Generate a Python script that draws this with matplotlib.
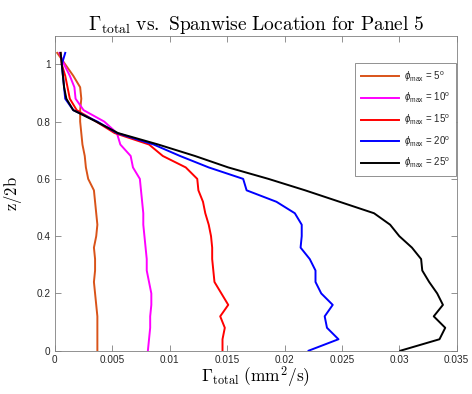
import numpy as np
import matplotlib
matplotlib.use('Agg')
import matplotlib.pyplot as plt
from matplotlib.font_manager import FontProperties

plt.rcParams['font.family'] = ['Liberation Sans', 'DejaVu Sans']
plt.rcParams['mathtext.fontset'] = 'custom'
plt.rcParams['mathtext.rm'] = 'Liberation Sans'
plt.rcParams['mathtext.it'] = 'Liberation Sans:italic'

# spanwise stations z/2b
z = [0.00, 0.04, 0.08, 0.12, 0.16, 0.20, 0.24, 0.28, 0.32, 0.36, 0.40, 0.44, 0.48,
     0.52, 0.56, 0.60, 0.64, 0.68, 0.72, 0.76, 0.80, 0.84, 0.88, 0.92, 0.96, 1.00, 1.04]

# circulation (mm^2/s) per max pitch angle
gamma_5 = [0.0037, 0.0037, 0.0037, 0.0037, 0.0036, 0.0035, 0.0034, 0.0035, 0.0035, 0.0034,
           0.0036, 0.0037, 0.0036, 0.0035, 0.0034, 0.0029, 0.0027, 0.0026, 0.0024, 0.0023,
           0.0022, 0.0022, 0.0023, 0.0022, 0.0016, 0.0009, 0.0002]
gamma_10 = [0.0081, 0.0082, 0.0083, 0.0083, 0.0084, 0.0084, 0.0082, 0.0080, 0.0080, 0.0079,
            0.0078, 0.0077, 0.0077, 0.0076, 0.0075, 0.0074, 0.0068, 0.0066, 0.0057, 0.0054,
            0.0043, 0.0025, 0.0018, 0.0017, 0.0013, 0.0008, 0.0004]
gamma_15 = [0.0146, 0.0146, 0.0148, 0.0144, 0.0151, 0.0145, 0.0139, 0.0138, 0.0137, 0.0137,
            0.0136, 0.0134, 0.0131, 0.0129, 0.0125, 0.0124, 0.0114, 0.0094, 0.0082, 0.0052,
            0.0036, 0.0019, 0.0013, 0.0011, 0.0009, 0.0006, 0.0005]
gamma_20 = [0.0221, 0.0247, 0.0237, 0.0235, 0.0242, 0.0232, 0.0227, 0.0227, 0.0222, 0.0214,
            0.0215, 0.0215, 0.0209, 0.0193, 0.0167, 0.0164, 0.0134, 0.0109, 0.0086, 0.0054,
            0.0037, 0.0016, 0.0009, 0.0008, 0.0007, 0.0006, 0.0009]
gamma_25 = [0.0301, 0.0335, 0.0340, 0.0330, 0.0338, 0.0333, 0.0326, 0.0320, 0.0319, 0.0311,
            0.0300, 0.0292, 0.0278, 0.0248, 0.0218, 0.0186, 0.0151, 0.0122, 0.0090, 0.0055,
            0.0036, 0.0016, 0.0010, 0.0008, 0.0007, 0.0006, 0.0005]

series = [gamma_5, gamma_10, gamma_15, gamma_20, gamma_25]
angles = [5, 10, 15, 20, 25]
colors = ['#D95319', '#FF00FF', '#FF0000', '#0000FF', '#000000']

xticks = [0, 0.005, 0.01, 0.015, 0.02, 0.025, 0.03, 0.035]
xticklabels = ['0', '0.005', '0.01', '0.015', '0.02', '0.025', '0.03', '0.035']
yticks = [0, 0.2, 0.4, 0.6, 0.8, 1.0]
yticklabels = ['0', '0.2', '0.4', '0.6', '0.8', '1']

fig = plt.figure(figsize=(4.72, 3.94), dpi=100)
ax = fig.add_axes([0.1163, 0.1099, 0.8513, 0.7995])

for g, a, c in zip(series, angles, colors):
    ax.plot(g, z, color=c, linewidth=1.4,
            label=r'$\phi_{\rm max}$ = ' + str(a) + r'$^{\rm o}$')

ax.set_xlim(0, 0.035)
ax.set_ylim(0, 1.1)
ax.set_xticks(xticks)
ax.set_xticklabels(xticklabels)
ax.set_yticks(yticks)
ax.set_yticklabels(yticklabels)

gray = '#262626'
for s in ax.spines.values():
    s.set_color('#808080')
    s.set_linewidth(0.6)
ax.tick_params(direction='in', length=4, width=0.6, color='#808080',
               labelsize=7.2, labelcolor=gray, top=True, right=True, pad=3)

ax.set_title(r'$\Gamma_{\rm total}\ \mathrm{vs.\ Spanwise\ Location\ for\ Panel\ 5}$',
             fontsize=14, math_fontfamily='cm', pad=4)
ax.set_xlabel(r'$\Gamma_{\rm total}\ \mathrm{(mm^2/s)}$', fontsize=12.5,
              math_fontfamily='cm', labelpad=0)
ax.set_ylabel(r'$\mathrm{z/2b}$', fontsize=12, math_fontfamily='cm', labelpad=9)

leg = ax.legend(loc='upper right', bbox_to_anchor=(0.9975, 0.912), borderaxespad=0,
                fancybox=False, edgecolor='#808080', framealpha=1,
                prop=FontProperties(family='Liberation Sans', size=7),
                handlelength=3.9, handletextpad=0.5, labelspacing=0.75,
                borderpad=0.6)
leg.get_frame().set_linewidth(0.6)
for t in leg.get_texts():
    t.set_color(gray)

plt.savefig('out.png', dpi=100)
plt.close(fig)
